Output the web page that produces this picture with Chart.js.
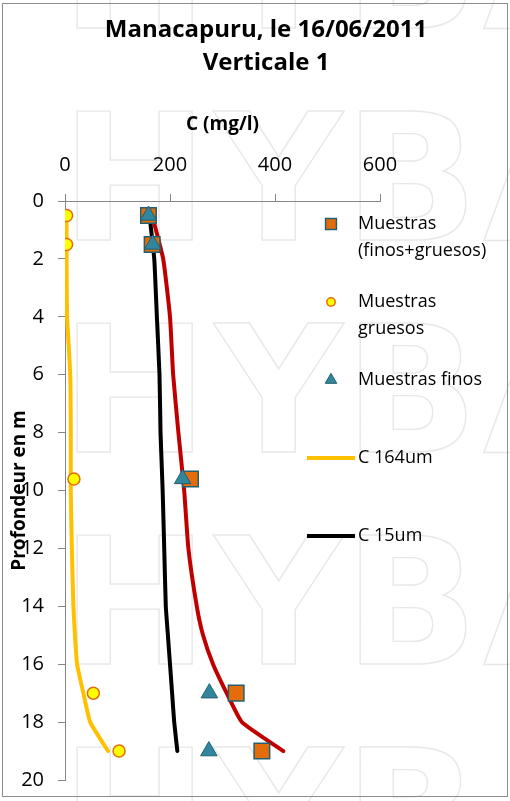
<!DOCTYPE html>
<html>
<head>
<meta charset="utf-8">
<title>Manacapuru, le 16/06/2011 - Verticale 1</title>
<script src="https://cdn.jsdelivr.net/npm/chart.js@4.4.1/dist/chart.umd.min.js"></script>
<style>
  html, body { margin: 0; padding: 0; background: #fff; }
  #wrap { position: relative; width: 510px; height: 801px; }
</style>
</head>
<body>
<div id="wrap"><canvas id="ChartProfil" width="510" height="801"></canvas></div>
<script>
(function () {
  "use strict";

  // Samples at the vertical: depth (m) and concentration (mg/l)
  const sample_depth  = [0.5, 1.5, 9.6, 17, 19];
  const sample_total  = [159, 166, 239, 326, 375];
  const sample_coarse = [3, 3, 17, 54, 103];
  const sample_fine   = [159, 167, 224, 275, 274];

  // Computed concentration profiles
  const profile_depth = [0.5, 2, 4, 6, 8, 10, 12, 14, 15, 16, 17, 18, 19];
  const profile_c164  = [3, 3, 4, 10, 11, 11, 13, 16, 19, 23, 35, 48, 82];
  const profile_c15   = [161, 170, 175, 180, 182, 186, 189, 192, 196, 200, 204, 208, 214];
  const profile_total = [166, 187, 200, 206, 216, 227, 235, 251, 263, 282, 308, 337, 416];

  // Axis ticks
  const conc_ticks  = [0, 200, 400, 600];
  const depth_ticks = [0, 2, 4, 6, 8, 10, 12, 14, 16, 18, 20];

  // Colors
  const c_orange    = '#E46C0A';
  const c_teal      = '#31859C';
  const c_teal_dark = '#22606F';
  const c_yellow    = '#FFFF00';
  const c_gold      = '#FFC000';
  const c_red       = '#C00000';
  const c_black     = '#000000';
  const c_axis      = '#868686';

  const FONT = '"Open Sans", "DejaVu Sans", sans-serif';

  function pairs(xs, ys) {
    return xs.map(function (x, i) { return { x: x, y: ys[i] }; });
  }

  // Background, HYBAM watermark, frame, title and legend
  const decor = {
    id: 'decor',
    beforeDraw(chart) {
      const c = chart.ctx;
      c.save();
      c.fillStyle = '#fff';
      c.fillRect(0, 0, chart.width, chart.height);

      c.strokeStyle = '#e8e8e8';
      c.lineWidth = 1.4;
      c.font = 'bold 176px "DejaVu Sans"';
      c.textBaseline = 'alphabetic';
      const letters = [['H', 77], ['Y', 213], ['B', 360], ['A', 483]];
      [28, 240, 452, 664, 876].forEach(function (base) {
        letters.forEach(function (l) {
          const m = c.measureText(l[0]);
          c.strokeText(l[0], l[1] + m.actualBoundingBoxLeft, base);
        });
      });
      c.restore();
    },
    afterDraw(chart) {
      const c = chart.ctx;
      c.save();

      // frame
      c.strokeStyle = '#8c8c8c';
      c.lineWidth = 1;
      c.strokeRect(2.5, 3.5, 505, 793);

      // title
      c.fillStyle = '#000';
      c.textAlign = 'center';
      c.textBaseline = 'middle';
      c.font = 'bold 24px ' + FONT;
      c.fillText('Manacapuru, le 16/06/2011', 266, 30);
      c.fillText('Verticale 1', 266, 63);

      // legend
      c.textAlign = 'left';
      c.font = '18px ' + FONT;
      let row = 0;
      chart.data.datasets.forEach(function (ds) {
        if (ds.inLegend === false) return;
        const y = 224 + row * 78;
        if (ds.showLine) {
          c.strokeStyle = ds.borderColor;
          c.lineWidth = ds.borderWidth;
          c.beginPath();
          c.moveTo(307, y);
          c.lineTo(355, y);
          c.stroke();
        } else {
          c.fillStyle = ds.backgroundColor;
          c.strokeStyle = ds.borderColor;
          c.lineWidth = ds.borderWidth;
          Chart.helpers.drawPoint(c, {
            pointStyle: ds.pointStyle,
            radius: ds.pointRadius * 0.7,
            borderWidth: ds.borderWidth,
            rotation: 0
          }, 331, y);
        }
        // wrap the label like the spreadsheet legend does
        c.fillStyle = '#000';
        const words = ds.label.split(' ');
        const lines = [];
        let cur = '';
        words.forEach(function (w) {
          const t = cur ? cur + ' ' + w : w;
          if (cur && c.measureText(t).width > 135) {
            lines.push(cur);
            cur = w;
          } else {
            cur = t;
          }
        });
        lines.push(cur);
        lines.forEach(function (ln, k) { c.fillText(ln, 358, y + k * 27); });
        row++;
      });
      c.restore();
    }
  };

  const ctx = document.getElementById('ChartProfil').getContext('2d');
  new Chart(ctx, {
    type: 'scatter',
    data: {
      datasets: [{
        label: 'Muestras (finos+gruesos)',
        data: pairs(sample_total, sample_depth),
        pointStyle: 'rect',
        pointRadius: 11,
        backgroundColor: c_orange,
        borderColor: c_teal_dark,
        borderWidth: 1.5,
        order: 1
      },
      {
        label: 'Muestras gruesos',
        data: pairs(sample_coarse, sample_depth),
        pointStyle: 'circle',
        pointRadius: 6,
        backgroundColor: c_yellow,
        borderColor: c_orange,
        borderWidth: 1.5,
        order: 2
      },
      {
        label: 'Muestras finos',
        data: pairs(sample_fine, sample_depth),
        pointStyle: 'triangle',
        pointRadius: 9.5,
        backgroundColor: c_teal,
        borderColor: c_teal_dark,
        borderWidth: 1,
        order: 0
      },
      {
        label: 'C 164um',
        data: pairs(profile_c164, profile_depth),
        showLine: true,
        borderColor: c_gold,
        backgroundColor: c_gold,
        borderWidth: 4,
        borderCapStyle: 'round',
        pointRadius: 0,
        tension: 0.15,
        order: 3
      },
      {
        label: 'C 15um',
        data: pairs(profile_c15, profile_depth),
        showLine: true,
        borderColor: c_black,
        backgroundColor: c_black,
        borderWidth: 4,
        borderCapStyle: 'round',
        pointRadius: 0,
        tension: 0.15,
        order: 4
      },
      {
        label: 'C total',
        data: pairs(profile_total, profile_depth),
        showLine: true,
        inLegend: false,
        borderColor: c_red,
        backgroundColor: c_red,
        borderWidth: 4,
        borderCapStyle: 'round',
        pointRadius: 0,
        tension: 0.15,
        order: 5
      }]
    },
    options: {
      responsive: false,
      animation: false,
      layout: {
        padding: { left: 0, top: 0, right: 130, bottom: 21 }
      },
      plugins: {
        legend: { display: false },
        title: { display: false },
        tooltip: { enabled: false }
      },
      scales: {
        x: {
          type: 'linear',
          position: 'top',
          min: 0,
          max: 600,
          afterBuildTicks: function (scale) {
            scale.ticks = conc_ticks.map(function (v) { return { value: v }; });
          },
          afterFit: function (scale) { scale.height = 201; },
          border: { color: c_axis, width: 1 },
          grid: { drawOnChartArea: false, drawTicks: true, tickLength: 7, color: c_axis },
          ticks: { color: '#000', padding: 17, maxRotation: 0, font: { family: FONT, size: 20 } },
          title: {
            display: true,
            text: 'C (mg/l)',
            color: '#000',
            font: { family: FONT, size: 19, weight: 'bold' },
            padding: { top: 113, bottom: 0 }
          }
        },
        y: {
          type: 'linear',
          reverse: true,
          min: 0,
          max: 20,
          afterBuildTicks: function (scale) {
            scale.ticks = depth_ticks.map(function (v) { return { value: v }; });
          },
          afterFit: function (scale) {
            scale.width = 65;
            // labels overhang into the padding, do not shrink the plot for them
            scale.paddingTop = 0;
            scale.paddingBottom = 0;
          },
          border: { color: c_axis, width: 1 },
          grid: { drawOnChartArea: false, drawTicks: true, tickLength: 7, color: c_axis },
          ticks: { color: '#000', padding: 14, font: { family: FONT, size: 20 } },
          title: {
            display: true,
            text: 'Profondeur en m',
            color: '#000',
            font: { family: FONT, size: 19, weight: 'bold' },
            padding: { top: 8, bottom: 0 }
          }
        }
      }
    },
    plugins: [decor]
  });

})();
</script>
</body>
</html>
